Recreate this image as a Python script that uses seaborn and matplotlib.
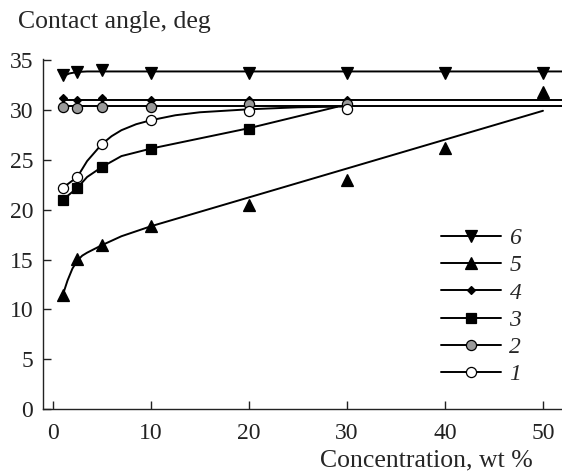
import numpy as np
import pandas as pd
import matplotlib
matplotlib.use('Agg')
import matplotlib.pyplot as plt
from matplotlib.lines import Line2D
import seaborn as sns

# ============ Data ============
conc = [1, 2.5, 5, 10, 20, 30, 40, 50]

# measured points
y6 = [33.5, 33.8, 34.0, 33.7, 33.7, 33.7, 33.7, 33.7]
y5 = [11.4, 15.05, 16.45, 18.35, 20.45, 23.0, 26.2, 31.8]
y4 = [31.2, 31.0, 31.2, 31.0, 31.0, 31.0]
y3 = [21.0, 22.2, 24.3, 26.15, 28.15]
y2 = [30.35, 30.2, 30.3, 30.3, 30.65, 30.65]
y1 = [22.2, 23.3, 26.6, 29.0, 29.9, 30.15]

# fitted curves drawn through the points
fit6_x = [1, 1.7, 2.5, 3.5, 52]
fit6_y = [33.4, 33.7, 33.85, 33.9, 33.9]
fit5_x = [1, 1.5, 2, 2.5, 3, 3.5, 4, 5, 7, 10, 50]
fit5_y = [11.4, 12.9, 14.1, 14.9, 15.4, 15.7, 15.95, 16.45, 17.35, 18.35, 29.95]
fit4_x = [1, 52]
fit4_y = [31.05, 31.05]
fit3_x = [1, 2.5, 3.5, 5, 7, 10, 20, 29]
fit3_y = [21.0, 22.2, 23.3, 24.3, 25.4, 26.15, 28.2, 30.35]
fit2_x = [1, 52]
fit2_y = [30.38, 30.38]
fit1_x = [1, 2.5, 3.5, 5, 6, 7, 8.5, 10, 12.5, 15, 20, 25, 30]
fit1_y = [22.2, 23.3, 24.9, 26.6, 27.4, 28.0, 28.6, 29.0, 29.5, 29.8, 30.1, 30.3, 30.38]

labels = ['6', '5', '4', '3', '2', '1']

# ============ Style ============
sns.set_style('ticks')
plt.rcParams['font.family'] = ['Liberation Serif', 'DejaVu Serif']
plt.rcParams['font.size'] = 17

fig = plt.figure(figsize=(5.62, 4.73), dpi=100)
ax = fig.add_axes([43 / 562, 64 / 473, 519 / 562, 349.5 / 473])

lw = 1.4
series = [
    (fit6_x, fit6_y, conc, y6, 'v', 'black', 8),
    (fit5_x, fit5_y, conc, y5, '^', 'black', 8),
    (fit4_x, fit4_y, conc[:6], y4, 'D', 'black', 4.5),
    (fit3_x, fit3_y, conc[:5], y3, 's', 'black', 7),
    (fit2_x, fit2_y, conc[:6], y2, 'o', '#9a9a9a', 7.3),
    (fit1_x, fit1_y, conc[:6], y1, 'o', 'white', 7.3),
]

handles = []
for fx, fy, px, py, mk, fc, ms in series:
    sns.lineplot(x=fx, y=fy, ax=ax, color='black', lw=lw, sort=False,
                 estimator=None)
    ax.plot(px, py, ls='none', marker=mk, markersize=ms, markerfacecolor=fc,
            markeredgecolor='black', markeredgewidth=0.9, zorder=3)
    handles.append(Line2D([], [], color='black', lw=lw, marker=mk, markersize=ms,
                          markerfacecolor=fc, markeredgecolor='black',
                          markeredgewidth=0.9))

ax.set_xlim(-1.0, 51.94)
ax.set_ylim(0, 35.1)
ax.set_xticks([0, 10, 20, 30, 40, 50])
ax.set_yticks([0, 5, 10, 15, 20, 25, 30, 35])
ax.tick_params(direction='in', length=6, width=1.0, colors='#222222')
ax.tick_params(axis='y', pad=7)
ax.tick_params(axis='x', pad=10)
for s in ['top', 'right']:
    ax.spines[s].set_visible(False)
for s in ['left', 'bottom']:
    ax.spines[s].set_linewidth(1.0)
    ax.spines[s].set_color('#222222')

leg = ax.legend(handles, labels, loc='center left',
                bbox_to_anchor=(441 / 562, 1 - 306.5 / 473),
                bbox_transform=fig.transFigure, frameon=False,
                borderpad=0, borderaxespad=0, handlelength=2.55,
                handletextpad=0.35, labelspacing=0.24,
                prop={'family': 'Liberation Serif', 'style': 'italic', 'size': 17})

fig.text(18 / 562, 1 - 28 / 473, 'Contact angle, deg', ha='left', va='baseline',
         fontsize=18.5)
fig.text(533 / 562, 1 - 466 / 473, 'Concentration, wt %', ha='right',
         va='baseline', fontsize=18.5)

fig.savefig('out.png', dpi=100)
